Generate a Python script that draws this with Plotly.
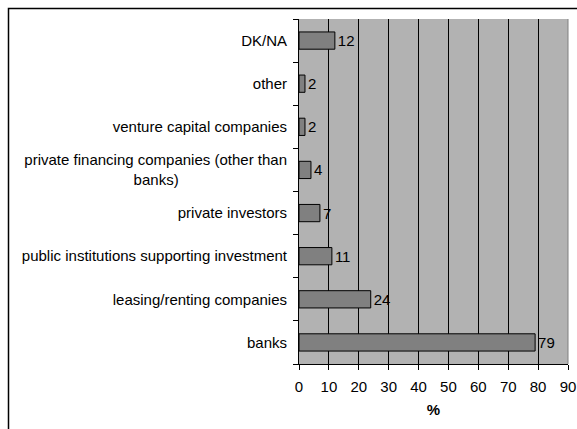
import plotly.graph_objects as go

NB = "\u00a0"
categories = ["banks", "leasing/renting companies", "public institutions supporting investment",
              "private investors", "private financing companies (other than<br>banks)" + NB * 26,
              "venture capital companies", "other", "DK/NA"]
values = [79, 24, 11, 7, 4, 2, 2, 12]
x_ticks = [0, 10, 20, 30, 40, 50, 60, 70, 80, 90]

W, H = 577, 429
L, T, R, B = 299, 19, 9, 65
pw, ph = W - L - R, H - T - B
FS = 15

fig = go.Figure(go.Bar(
    y=categories, x=values, orientation="h",
    marker=dict(color="#808080", line=dict(color="black", width=1)),
    width=0.4,
    text=[str(v) for v in values], textposition="outside",
    textfont=dict(family="Liberation Sans, Arial", size=FS, color="black"),
    cliponaxis=False,
))

fig.update_layout(
    width=W, height=H,
    margin=dict(l=L, r=R, t=T, b=B),
    paper_bgcolor="white", plot_bgcolor="#b2b2b2",
    font=dict(family="Liberation Sans, Arial", size=FS, color="black"),
    showlegend=False,
    xaxis=dict(range=[0, 90], tickvals=x_ticks, showgrid=True, gridcolor="black", gridwidth=1,
               showline=True, linecolor="black", linewidth=1, ticks="outside", ticklen=5,
               tickcolor="black", zeroline=False, automargin=False, ticklabelstandoff=4,
               title=dict(text="<b>%</b>", font=dict(size=FS), standoff=10)),
    yaxis=dict(showgrid=False, showline=True, linecolor="black", linewidth=1,
               ticks="outside", ticklen=5, tickcolor="black", tickson="boundaries",
               ticklabelstandoff=8, automargin=False),
    shapes=[
        dict(type="rect", xref="paper", yref="paper",
             x0=(8.5 - L) / pw, x1=(W + 5 - L) / pw,
             y0=-(B + 5) / ph, y1=1 + (T - 8.5) / ph,
             line=dict(color="black", width=1.5), fillcolor="rgba(0,0,0,0)", layer="below"),
        dict(type="line", xref="paper", yref="paper", x0=1, x1=1, y0=0, y1=1,
             line=dict(color="#808080", width=1)),
    ],
)

fig.write_html("out.html", config={"displayModeBar": False},
               post_script="document.body.style.margin='0';document.body.style.overflow='hidden';")
